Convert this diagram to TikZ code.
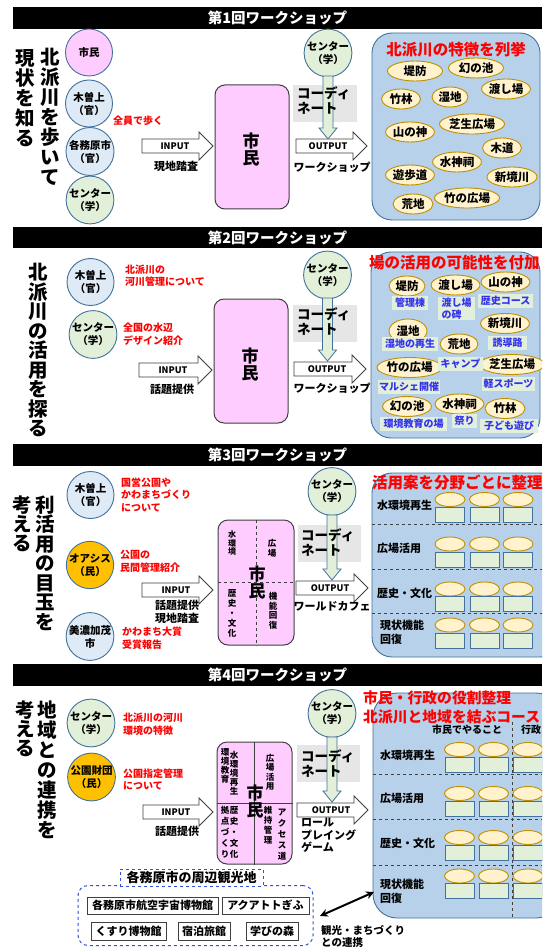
\documentclass[tikz,border=0pt]{standalone}
\usepackage{fontspec}
\setmainfont{Noto Sans CJK JP}
\usetikzlibrary{shapes.geometric,arrows.meta}
\definecolor{pinkf}{HTML}{FFCCFF}
\definecolor{cbd}{HTML}{41719C}
\definecolor{lblue}{HTML}{DEEBF7}
\definecolor{lgreen}{HTML}{E2F0D9}
\definecolor{orgf}{HTML}{FFC000}
\definecolor{panel}{HTML}{B7D1EA}
\definecolor{ellf}{HTML}{FFF2CC}
\definecolor{elld}{HTML}{BF9000}
\definecolor{grayb}{HTML}{E7E6E6}
\definecolor{bluet}{HTML}{3333EE}
\definecolor{btf}{HTML}{E2EFDA}
\definecolor{redt}{HTML}{FF0000}
\definecolor{dgray}{HTML}{404040}
\definecolor{dblue}{HTML}{3050E0}
\newcommand{\fzb}[2]{\fontsize{#1}{#2}\selectfont\bfseries}
\newcommand{\blockR}[3]{\draw[barrow] (#1,#3-7) -- (#2-14,#3-7) -- (#2-14,#3-14) -- (#2,#3) -- (#2-14,#3+14) -- (#2-14,#3+7) -- (#1,#3+7) -- cycle;}
\newcommand{\blockD}[3]{\draw[darrow] (#1-5,#2) -- (#1-5,#3-11) -- (#1-9,#3-11) -- (#1,#3) -- (#1+9,#3-11) -- (#1+5,#3-11) -- (#1+5,#2) -- cycle;}
\tikzset{
 hdr/.style={fill=black, text=white, minimum width=529pt, minimum height=22pt, inner sep=0pt, font=\fzb{14.5}{14.5}},
 vtext/.style={align=center, inner sep=0pt, font=\fzb{19.5}{20}},
 person/.style={circle, draw=cbd, line width=0.9pt, minimum size=47pt, inner sep=0pt, align=center, font=\fzb{10.5}{13}},
 note/.style={anchor=west, align=left, inner sep=0pt, text=redt, font=\fzb{10}{12.5}},
 atext/.style={inner sep=0pt, font=\fzb{9}{9}},
 ltext/.style={inner sep=0pt, align=center, font=\fzb{11}{13}},
 citbox/.style={draw=dgray, line width=1pt, fill=pinkf, rounded corners=10pt, inner sep=0pt},
 bigt/.style={align=center, inner sep=0pt, font=\fzb{17}{17}},
 gbox/.style={fill=grayb, inner sep=0pt},
 cot/.style={anchor=west, align=left, inner sep=0pt, font=\fzb{13.5}{15}},
 barrow/.style={draw=dgray, fill=white, line width=0.9pt},
 darrow/.style={draw=cbd, fill=lgreen, line width=0.8pt},
 pnl/.style={fill=panel, draw=cbd, line width=0.9pt, rounded corners=20pt, inner sep=0pt},
 ptitle/.style={inner sep=0pt, text=redt, font=\fzb{15.5}{19}},
 ell/.style={ellipse, draw=elld, fill=ellf, line width=0.9pt, inner sep=0pt, minimum height=20pt, font=\fzb{11.5}{11.5}},
 bt/.style={fill=btf, text=bluet, inner sep=1pt, minimum height=14pt, align=left, font=\fzb{10}{11.5}},
 sell/.style={ellipse, draw=elld, fill=ellf, line width=0.9pt, minimum width=30pt, minimum height=14pt, inner sep=0pt},
 sbox/.style={draw=cbd, fill=lgreen, line width=0.8pt, minimum width=29pt, minimum height=15pt, inner sep=0pt},
 rowl/.style={anchor=west, align=left, inner sep=0pt, font=\fzb{11}{13.5}},
 qt/.style={align=center, inner sep=0pt, font=\fzb{8.5}{9.5}},
 sepline/.style={dashed, draw=dgray, line width=0.8pt},
 tbox/.style={draw=dgray, line width=1pt, fill=white, inner sep=0pt, font=\fzb{11}{11}},
 dbox/.style={draw=dblue, dashed, line width=1pt},
}
\begin{document}
\begin{tikzpicture}[x=1pt,y=-1pt]
\useasboundingbox (0,0) rectangle (542,949);
\clip (0,0) rectangle (542,949);
\fill[white] (0,0) rectangle (542,949);

% ================= Section 1
\node[hdr] (h1) at (277.5,18) {第1回ワークショップ};
\node[vtext] (v1a) at (50,117) {北\\派\\川\\を\\歩\\い\\て};
\node[vtext] (v1b) at (25,98) {現\\状\\を\\知\\る};
\node[person, fill=pinkf] (c11) at (89,52.5) {市民};
\node[person, fill=lblue] (c12) at (89,103.5) {木曽上\\（官）};
\node[person, fill=lblue] (c13) at (90,151.5) {各務原市\\（官）};
\node[person, fill=lgreen] (c14) at (90,200) {センター\\（学）};
\node[note] (n11) at (113,121) {全員で歩く};
\blockR{142}{213}{146}
\node[atext] (i1) at (175,146) {INPUT};
\node[ltext] (l1) at (176,166) {現地踏査};
\node[citbox, minimum width=74pt, minimum height=124pt] (m1) at (252,147) {};
\node[bigt] (mt1) at (251,150) {市\\民};
\node[person, fill=lgreen] (c15) at (328,53) {センター\\（学）};
\node[gbox, minimum width=64pt, minimum height=37pt] (g1) at (325,103.5) {};
\blockD{328}{76}{139}
\node[cot] (t1) at (297,101) {コーディ\\ネート};
\blockR{296}{367}{146}
\node[atext] (o1) at (328,146) {OUTPUT};
\node[ltext] (w1) at (332,167) {ワークショップ};
\node[pnl, minimum width=168pt, minimum height=187pt] (p1) at (456,126.5) {};
\node[ptitle] (pt1) at (456,50) {北派川の特徴を列挙};
\node[ell, minimum width=55pt] (e101) at (415,71) {堤防};
\node[ell, minimum width=55pt] (e102) at (476,68) {幻の池};
\node[ell, minimum width=45pt] (e103) at (506,89) {渡し場};
\node[ell, minimum width=39pt] (e104) at (401,99) {竹林};
\node[ell, minimum width=36pt] (e105) at (450,97) {湿地};
\node[ell, minimum width=54pt] (e106) at (472,124) {芝生広場};
\node[ell, minimum width=42pt] (e107) at (410,132) {山の神};
\node[ell, minimum width=39pt] (e108) at (502,148) {木道};
\node[ell, minimum width=42pt] (e109) at (457,162) {水神祠};
\node[ell, minimum width=42pt] (e110) at (410,175) {遊歩道};
\node[ell, minimum width=50pt] (e111) at (512,177) {新境川};
\node[ell, minimum width=53pt] (e112) at (467,198) {竹の広場};
\node[ell, minimum width=40pt] (e113) at (413,204) {荒地};

% ================= Section 2
\node[hdr, minimum height=21pt] (h2) at (277.5,238) {第2回ワークショップ};
\node[vtext, font=\fzb{19.5}{19.5}] (v2a) at (38,350) {北\\派\\川\\の\\活\\用\\を\\探\\る};
\node[person, fill=lblue] (c21) at (90.5,282) {木曽上\\（官）};
\node[person, fill=lgreen] (c22) at (93,334.5) {センター\\（学）};
\node[note] (n21) at (125,276) {北派川の\\河川管理について};
\node[note] (n22) at (123,334) {全国の水辺\\デザイン紹介};
\blockR{139}{212}{370}
\node[atext] (i2) at (173,370) {INPUT};
\node[ltext] (l2) at (172,389) {話題提供};
\node[citbox, minimum width=74pt, minimum height=124pt] (m2) at (251,361) {};
\node[bigt] (mt2) at (250,365) {市\\民};
\node[person, fill=lgreen] (c23) at (327.5,275) {センター\\（学）};
\node[gbox, minimum width=64pt, minimum height=37pt] (g2) at (325,323.5) {};
\blockD{327.5}{298}{361}
\node[cot] (t2) at (297,322) {コーディ\\ネート};
\blockR{294}{366}{369}
\node[atext] (o2) at (327,369) {OUTPUT};
\node[ltext] (w2) at (332,388) {ワークショップ};
\node[pnl, minimum width=169pt, minimum height=186pt] (p2) at (455.5,345) {};
\node[ptitle, anchor=west] (pt2) at (369,263) {場の活用の可能性を付加};
\node[ell, minimum width=36pt] (e201) at (407,286) {堤防};
\node[ell, minimum width=45pt] (e202) at (455.5,285) {渡し場};
\node[ell, minimum width=38pt] (e203) at (505.5,282) {山の神};
\node[ell, minimum width=38pt, minimum height=24pt] (e204) at (408,331) {湿地};
\node[ell, minimum width=46pt] (e205) at (505,323.5) {新境川};
\node[ell, minimum width=38pt] (e206) at (459,344) {荒地};
\node[ell, minimum width=55pt] (e207) at (409.5,367.5) {竹の広場};
\node[ell, minimum width=54pt] (e208) at (512,364.5) {芝生広場};
\node[ell, minimum width=40pt] (e209) at (407,406.5) {幻の池};
\node[ell, minimum width=38pt] (e210) at (459.5,404) {水神祠};
\node[ell, minimum width=40pt] (e211) at (505,408.5) {竹林};
\node[bt, minimum width=36pt] (b201) at (410,303) {管理棟};
\node[bt, minimum width=37pt] (b202) at (456.5,308.5) {渡し場\\の碑};
\node[bt, minimum width=55pt] (b203) at (505.5,300.5) {歴史コース};
\node[bt, minimum width=56pt] (b204) at (410,343.5) {湿地の再生};
\node[bt, minimum width=45pt] (b205) at (460.5,364) {キャンプ};
\node[bt, minimum width=39pt] (b206) at (507.5,342.5) {誘導路};
\node[bt, minimum width=62pt] (b207) at (409,386.5) {マルシェ開催};
\node[bt, minimum width=53pt] (b208) at (508.5,383.5) {軽スポーツ};
\node[bt, minimum width=67pt] (b209) at (413.5,424) {環境教育の場};
\node[bt, minimum width=25pt] (b210) at (464.5,420.5) {祭り};
\node[bt, minimum width=58pt] (b211) at (509,426) {子ども遊び};

% ================= Section 3
\node[hdr] (h3) at (277.5,455) {第3回ワークショップ};
\node[vtext, font=\fzb{19.5}{19.5}] (v3a) at (45,563) {利\\活\\用\\の\\目\\玉\\を};
\node[vtext, font=\fzb{19.5}{19}] (v3b) at (22,524) {考\\え\\る};
\node[person, fill=lblue] (c31) at (90.5,495) {木曽上\\（官）};
\node[person, fill=orgf] (c32) at (90,565) {オアシス\\（民）};
\node[person, fill=lblue] (c33) at (90,636.5) {美濃加茂\\市};
\node[note] (n31) at (121,494.5) {国営公園や\\かわまちづくり\\について};
\node[note] (n32) at (120,561.5) {公園の\\民間管理紹介};
\node[note] (n33) at (122,638) {かわまち大賞\\受賞報告};
\blockR{142}{213}{590}
\node[atext] (i3) at (176,590) {INPUT};
\node[ltext] (l3) at (177,612) {話題提供\\現地踏査};
\node[citbox, minimum width=76pt, minimum height=125pt] (m3) at (256,582.5) {};
\draw[sepline] (m3.north) -- (m3.south);
\draw[sepline] (m3.west) -- (m3.east);
\node[qt, font=\fzb{8}{8.5}] (q31) at (232,543) {水\\環\\境};
\node[qt, font=\fzb{8.5}{10}] (q32) at (272,548) {広\\場};
\node[qt, font=\fzb{8.5}{10}] (q33) at (232,613) {歴\\史\\・\\文\\化};
\node[qt, font=\fzb{8.5}{9.5}] (q34) at (273,611) {機\\能\\回\\復};
\node[bigt] (mt3) at (257,583) {市\\民};
\node[person, fill=lgreen] (c34) at (332,491.5) {センター\\（学）};
\node[gbox, minimum width=63pt, minimum height=37pt] (g3) at (329.5,543.5) {};
\blockD{332}{515}{580}
\node[cot] (t3) at (301,542.5) {コーディ\\ネート};
\blockR{296}{368}{588}
\node[atext] (o3) at (330,588) {OUTPUT};
\node[ltext] (w3) at (332,606) {ワールドカフェ};
\node[pnl, minimum width=188pt, minimum height=184pt] (p3) at (466,565) {};
\node[ptitle, anchor=west] (pt3) at (372,482) {活用案を分野ごとに整理};
\draw[sepline] (372,524) -- (542,524);
\draw[sepline] (372,569) -- (542,569);
\draw[sepline] (372,613) -- (542,613);
\node[rowl] (r31) at (377,505) {水環境再生};
\node[rowl] (r32) at (377,548) {広場活用};
\node[rowl] (r33) at (377,593) {歴史・文化};
\node[rowl] (r34) at (380,632.5) {現状機能\\回復};
\foreach \x [count=\i] in {450,484.5,518}{
  \node[sell] (s3a\i) at (\x,499.5) {};
  \node[sbox] (s3b\i) at (\x,514.5) {};
  \node[sell] (s3c\i) at (\x,544) {};
  \node[sbox] (s3d\i) at (\x,559.5) {};
  \node[sell] (s3e\i) at (\x,589) {};
  \node[sbox] (s3f\i) at (\x,603.5) {};
  \node[sell] (s3g\i) at (\x,625) {};
  \node[sbox] (s3h\i) at (\x,640.5) {};
}

% ================= Section 4
\node[hdr] (h4) at (277.5,675) {第4回ワークショップ};
\node[vtext] (v4a) at (47,770) {地\\域\\と\\の\\連\\携\\を};
\node[vtext, font=\fzb{19.5}{19}] (v4b) at (25,729) {考\\え\\る};
\node[person, fill=lgreen] (c41) at (91,723) {センター\\（学）};
\node[person, fill=orgf] (c42) at (91.5,777) {公園財団\\（民）};
\node[note] (n41) at (123,724) {北派川の河川\\環境の特徴};
\node[note] (n42) at (123,779.5) {公園指定管理\\について};
\blockR{143}{213}{812}
\node[atext] (i4) at (176,812) {INPUT};
\node[ltext] (l4) at (177,831) {話題提供};
\node[citbox, minimum width=75pt, minimum height=122pt] (m4) at (254.5,803) {};
\draw[dgray, line width=0.9pt] (m4.north) -- (m4.south);
\draw[dgray, line width=0.9pt] (m4.west) -- (m4.east);
\node[qt, font=\fzb{8.5}{9}] (q41) at (234,773) {水\\環\\境\\再\\生};
\node[qt, font=\fzb{8.5}{9}] (q42) at (225,765.5) {環\\境\\教\\育};
\node[qt, font=\fzb{8.5}{9.5}] (q43) at (270,772.5) {広\\場\\活\\用};
\node[qt, font=\fzb{8.5}{11}] (q44) at (234,832) {歴\\史\\・\\文\\化};
\node[qt, font=\fzb{8.5}{11}] (q45) at (225,832.5) {拠\\点\\づ\\く\\り};
\node[qt, font=\fzb{8.5}{11}] (q46) at (282,834.5) {ア\\ク\\セ\\ス\\道};
\node[qt, font=\fzb{8.5}{10}] (q47) at (268,825) {維\\持\\管\\理};
\node[bigt] (mt4) at (255,802) {市\\民};
\node[person, fill=lgreen] (c43) at (332,713.5) {センター\\（学）};
\node[gbox, minimum width=63pt, minimum height=37pt] (g4) at (328.5,763.5) {};
\blockD{332}{737}{802}
\node[cot] (t4) at (301,764) {コーディ\\ネート};
\blockR{297}{368}{810}
\node[atext] (o4) at (331,810) {OUTPUT};
\node[ltext, anchor=west, align=left, font=\fzb{11}{12.5}] (w4) at (301,835.5) {ロール\\プレイング\\ゲーム};
\node[pnl, rounded corners=24pt, minimum width=187pt, minimum height=225pt] (p4) at (466.5,805.5) {};
\node[ptitle, anchor=west, font=\fzb{14.8}{19}] (pt4a) at (363,698) {市民・行政の役割整理};
\node[ptitle, anchor=west, font=\fzb{14.8}{19}] (pt4b) at (363,717) {北派川と地域を結ぶコース};
\node[inner sep=0pt, font=\fzb{10}{10}] (hc1) at (467,730) {市民でやること};
\node[inner sep=0pt, font=\fzb{10}{10}] (hc2) at (531,730) {行政};
\draw[sepline] (512,722) -- (512,918);
\draw[sepline] (373,774) -- (542,774);
\draw[sepline] (373,819) -- (542,819);
\draw[sepline] (373,865) -- (542,865);
\node[rowl] (r41) at (380,755) {水環境再生};
\node[rowl] (r42) at (380,798) {広場活用};
\node[rowl] (r43) at (380,843) {歴史・文化};
\node[rowl] (r44) at (380,891.5) {現状機能\\回復};
\foreach \x [count=\i] in {459.5,493.5,528}{
  \node[sell] (s4a\i) at (\x,749.5) {};
  \node[sbox] (s4b\i) at (\x,764.5) {};
  \node[sell] (s4c\i) at (\x,793.5) {};
  \node[sbox] (s4d\i) at (\x,809) {};
  \node[sell] (s4e\i) at (\x,837.5) {};
  \node[sbox] (s4f\i) at (\x,853) {};
  \node[sell] (s4g\i) at (\x,876) {};
  \node[sbox] (s4h\i) at (\x,891) {};
}

% ================= Bottom sightseeing
\node[dbox, rounded corners=10pt, minimum width=235pt, minimum height=60pt, inner sep=0pt] (bb) at (195.5,915.5) {};
\node[dbox, fill=white, minimum width=143pt, minimum height=17pt, inner sep=0pt, font=\fzb{13}{13}] (bl) at (191.5,877.5) {各務原市の周辺観光地};
\node[tbox, minimum width=131pt, minimum height=17pt] (k1) at (152.5,905.5) {各務原市航空宇宙博物館};
\node[tbox, minimum width=87pt, minimum height=17pt] (k2) at (265.5,905.5) {アクアトトぎふ};
\node[tbox, minimum width=75pt, minimum height=18pt] (k3) at (128.5,931) {くすり博物館};
\node[tbox, minimum width=52pt, minimum height=18pt] (k4) at (204,931) {宿泊旅館};
\node[tbox, minimum width=52pt, minimum height=18pt] (k5) at (272,931) {学びの森};
\coordinate (aL) at (320,916);
\coordinate (aR) at (374,892);
\draw[{Stealth[length=8pt,width=8pt]}-{Stealth[length=8pt,width=8pt]}, line width=2pt] (aL) -- (aR);
\node[anchor=west, align=left, inner sep=0pt, font=\fzb{10.5}{12.5}] (kt) at (321,936.5) {観光・まちづくり\\との連携};
\end{tikzpicture}
\end{document}
